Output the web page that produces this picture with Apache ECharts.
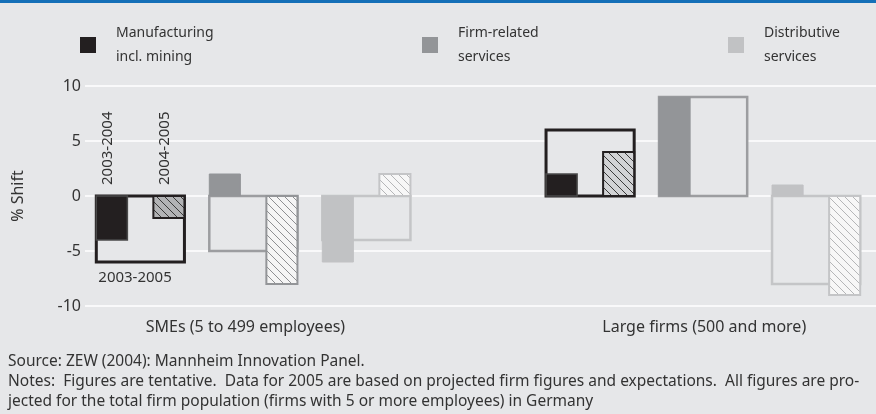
<!DOCTYPE html>
<html>
<head>
<meta charset="utf-8">
<script src="https://cdn.jsdelivr.net/npm/echarts@6/dist/echarts.min.js"></script>
<style>
html,body{margin:0;padding:0;background:#e6e7e9;}
#chart{width:876px;height:414px;}
</style>
</head>
<body>
<div id="chart"></div>
<script>
// ---- data ----
const groups = ['SMEs (5 to 499 employees)', 'Large firms (500 and more)'];
const sectors = ['Manufacturing\nincl. mining', 'Firm-related\nservices', 'Distributive\nservices'];
const periods = ['2003-2005', '2003-2004', '2004-2005'];
// per sector: [SMEs, Large firms]
const manuf2003_2005 = [-6, 6];
const manuf2003_2004 = [-4, 2];
const manuf2004_2005 = [-2, 4];
const firm2003_2005 = [-5, 9];
const firm2003_2004 = [2, 9];
const firm2004_2005 = [-8, 0];
const dist2003_2005 = [-4, -8];
const dist2003_2004 = [-6, 1];
const dist2004_2005 = [2, -9];
const yTicks = [-10, -5, 0, 5, 10];
const footer = [
  'Source: ZEW (2004): Mannheim Innovation Panel.',
  'Notes:  Figures are tentative.  Data for 2005 are based on projected firm figures and expectations.  All figures are pro-',
  'jected for the total firm population (firms with 5 or more employees) in Germany'
];

// ---- layout (axis units) ----
const L = { x0: 0.1, slot: 1.0, groupSpan: 3.98, box: 0.78, inner: 0.275, labelPos: [1.42, 5.48] };
const BG = '#e6e7e9';
const FONT = '"Noto Sans", "Open Sans", sans-serif';

function hatch(bg, line) {
  const c = document.createElement('canvas');
  c.width = 8; c.height = 8;
  const ctx = c.getContext('2d');
  ctx.fillStyle = bg; ctx.fillRect(0, 0, 8, 8);
  ctx.strokeStyle = line; ctx.lineWidth = 1;
  ctx.beginPath();
  ctx.moveTo(-1, -1); ctx.lineTo(9, 9);
  ctx.moveTo(-1, 7); ctx.lineTo(1, 9);
  ctx.moveTo(7, -1); ctx.lineTo(9, 1);
  ctx.stroke();
  return { image: c, repeat: 'repeat' };
}

const STY = [
  { fill: '#231f20', box: '#231f20', boxW: 3, innerStroke: '#4a4a4a', innerW: 1.5, hatchStroke: '#231f20',
    hatch: [hatch('#b2b3b5', '#3a3a3a'), hatch('#d2d3d5', '#3a3a3a')] },
  { fill: '#939598', box: '#9c9da0', boxW: 2.5, innerStroke: '#939598', innerW: 1, hatchStroke: '#939598',
    hatch: [hatch('#f5f5f5', '#8e8f92'), hatch('#f5f5f5', '#8e8f92')] },
  { fill: '#c1c2c4', box: '#c4c5c7', boxW: 2.5, innerStroke: '#c1c2c4', innerW: 1, hatchStroke: '#c4c5c7',
    hatch: [hatch('#f7f7f7', '#b5b6b8'), hatch('#f7f7f7', '#b5b6b8')] }
];

const sectorData = [
  [manuf2003_2005, manuf2003_2004, manuf2004_2005],
  [firm2003_2005, firm2003_2004, firm2004_2005],
  [dist2003_2005, dist2003_2004, dist2004_2005]
];

function makeRender(si) {
  return function (params, api) {
    const g = api.value(0);
    const total = api.value(1), a = api.value(2), b = api.value(3);
    const left = L.x0 + si * L.slot + g * L.groupSpan;
    const st = STY[si];
    function rect(xu, wu, v) {
      const p0 = api.coord([xu, 0]);
      const p1 = api.coord([xu + wu, v]);
      return { x: p0[0], y: Math.min(p0[1], p1[1]), width: p1[0] - p0[0], height: Math.abs(p1[1] - p0[1]) };
    }
    const children = [];
    children.push({ type: 'rect', shape: rect(left, L.box, total),
      style: { fill: BG, stroke: st.box, lineWidth: st.boxW } });
    if (a) children.push({ type: 'rect', shape: rect(left, L.inner, a),
      style: { fill: st.fill, stroke: st.innerStroke, lineWidth: st.innerW } });
    if (b) children.push({ type: 'rect', shape: rect(left + L.box - L.inner, L.inner, b),
      style: { fill: st.hatch[g], stroke: st.hatchStroke, lineWidth: 2 } });
    if (si === 0 && g === 0) {
      const zero = api.coord([left, 0]);
      const cA = api.coord([left + L.inner / 2, 0]);
      const cB = api.coord([left + L.box - L.inner / 2, 0]);
      const bot = api.coord([left, total]);
      const ts = { fill: '#333', fontSize: 15, fontFamily: FONT, align: 'left', verticalAlign: 'middle' };
      children.push({ type: 'text', x: cA[0] - 4, y: zero[1] - 11, rotation: Math.PI / 2,
        style: Object.assign({ text: periods[1] }, ts) });
      children.push({ type: 'text', x: cB[0] - 4, y: zero[1] - 11, rotation: Math.PI / 2,
        style: Object.assign({ text: periods[2] }, ts) });
      children.push({ type: 'text', x: bot[0] + 2, y: bot[1] + 16,
        style: Object.assign({ text: periods[0] }, ts) });
    }
    return { type: 'group', children };
  };
}

const legendLeft = [80, 422, 728];
const series = sectors.map((name, si) => ({
  type: 'custom',
  name: name,
  renderItem: makeRender(si),
  itemStyle: { color: STY[si].fill },
  encode: { x: 0, y: [1, 2, 3] },
  clip: false,
  data: groups.map((_, g) => [g, sectorData[si][0][g], sectorData[si][1][g], sectorData[si][2][g]])
}));

const chart = echarts.init(document.getElementById('chart'), null, { renderer: 'canvas' });
chart.setOption({
  backgroundColor: BG,
  animation: false,
  grid: { left: 85, right: 0, top: 86, bottom: 108 },
  legend: sectors.map((s, i) => ({
    data: [s], left: legendLeft[i], top: 21, padding: 0, icon: 'rect',
    itemWidth: 16, itemHeight: 16, selectedMode: false,
    textStyle: { fontSize: 14, lineHeight: 24, color: '#333', fontFamily: FONT, padding: [0, 0, 0, 15] }
  })),
  xAxis: {
    type: 'value', min: 0, max: 7,
    axisLine: { show: false }, axisTick: { show: false }, splitLine: { show: false },
    axisLabel: {
      customValues: L.labelPos, margin: 13, fontSize: 16, color: '#333', fontFamily: FONT,
      formatter: function (v) {
        let best = 0;
        L.labelPos.forEach((p, i) => { if (Math.abs(p - v) < Math.abs(L.labelPos[best] - v)) best = i; });
        return groups[best];
      }
    }
  },
  yAxis: {
    type: 'value', min: yTicks[0], max: yTicks[yTicks.length - 1], interval: 5,
    name: '% Shift', nameLocation: 'middle', nameGap: 59, nameRotate: 90,
    nameTextStyle: { fontSize: 16, color: '#333', fontFamily: FONT },
    axisLine: { show: false }, axisTick: { show: false },
    axisLabel: { fontSize: 16, color: '#333', margin: 4, fontFamily: FONT },
    splitLine: { lineStyle: { color: '#ffffff', width: 1.5 } }
  },
  graphic: [
    { type: 'rect', shape: { x: 0, y: 0, width: 876, height: 3 }, style: { fill: '#1570b8' } }
  ].concat(footer.map((t, i) => ({
    type: 'text', x: 8, y: 362 + i * 20,
    style: { text: t, fontSize: 15.5, fontFamily: FONT, fill: '#333', verticalAlign: 'middle' }
  }))),
  series: series
});
</script>
</body>
</html>
